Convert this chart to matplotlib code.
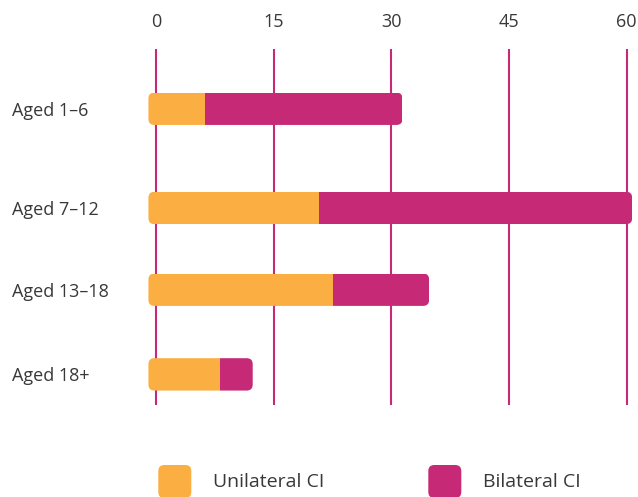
import numpy as np
import matplotlib.pyplot as plt
from matplotlib.patches import FancyBboxPatch

groups = ['Aged 1–6', 'Aged 7–12', 'Aged 13–18', 'Aged 18+']
unilateral = [6.2, 20.8, 22.6, 8.1]
bilateral = [25.2, 39.9, 12.2, 4.2]
ticks = [0, 15, 30, 45, 60]

# layout (rows are not evenly spaced in the original)
row_pos = [0, 1.195, 2.18, 3.2]
bar_h = 0.39
cap = 1.0  # rounded end sticks out a bit left of zero

orange = '#FBAE41'
magenta = '#C62A77'
grey = '#383838'
fsize = 13

plt.rcParams['font.family'] = ['Open Sans', 'DejaVu Sans']

W, H = 638, 497
fig = plt.figure(figsize=(W / 100, H / 100), dpi=100)
ax = fig.add_axes([140.6 / W, 92 / H, 495.5 / W, 356 / H])
ax.set_xlim(-2, 61.2)
ax.set_ylim(3.569, -0.72)

# px per unit, to get round corners in pixel terms
xpx = 495.5 / 63.2
ypx = 356 / (3.569 + 0.72)
aspect = xpx / ypx
r = 6 / xpx

bars_u = ax.barh(row_pos, [u + cap for u in unilateral], left=-cap,
                 height=bar_h, color=orange, zorder=3)
bars_b = ax.barh(row_pos, bilateral, left=unilateral,
                 height=bar_h, color=magenta, zorder=3)

for i, y in enumerate(row_pos):
    total = unilateral[i] + bilateral[i]
    shape = FancyBboxPatch((-cap, y - bar_h / 2), total + cap, bar_h,
                           boxstyle='round,pad=0,rounding_size=%f' % r,
                           mutation_aspect=aspect, transform=ax.transData,
                           fc='none', ec='none')
    ax.add_patch(shape)
    bars_u[i].set_clip_path(shape)
    bars_b[i].set_clip_path(shape)

ax.xaxis.tick_top()
ax.set_xticks(ticks)
ax.set_xticklabels([str(t) for t in ticks])
ax.tick_params(axis='x', length=0, pad=13, labelsize=fsize, labelcolor=grey)
ax.grid(axis='x', color=magenta, linewidth=1.5, zorder=1)
ax.set_axisbelow(True)

ax.set_yticks(row_pos)
ax.set_yticklabels(groups)
ax.tick_params(axis='y', length=0, pad=92.8, labelsize=fsize, labelcolor=grey)
for lab in ax.get_yticklabels():
    lab.set_ha('left')

for s in ax.spines.values():
    s.set_visible(False)

# legend
faspect = W / H
for x0, col, txt, tx in [(158.3, orange, 'Unilateral CI', 212.7),
                         (428.3, magenta, 'Bilateral CI', 482.7)]:
    sq = FancyBboxPatch((x0 / W, -1 / H), 33 / W, 33 / H,
                        boxstyle='round,pad=0,rounding_size=%f' % (6 / W),
                        mutation_aspect=faspect, transform=fig.transFigure,
                        fc=col, ec='none')
    fig.add_artist(sq)
    fig.text(tx / W, 15 / H, txt, va='center', ha='left',
             fontsize=14, color=grey)

fig.savefig('out.png', dpi=100)
